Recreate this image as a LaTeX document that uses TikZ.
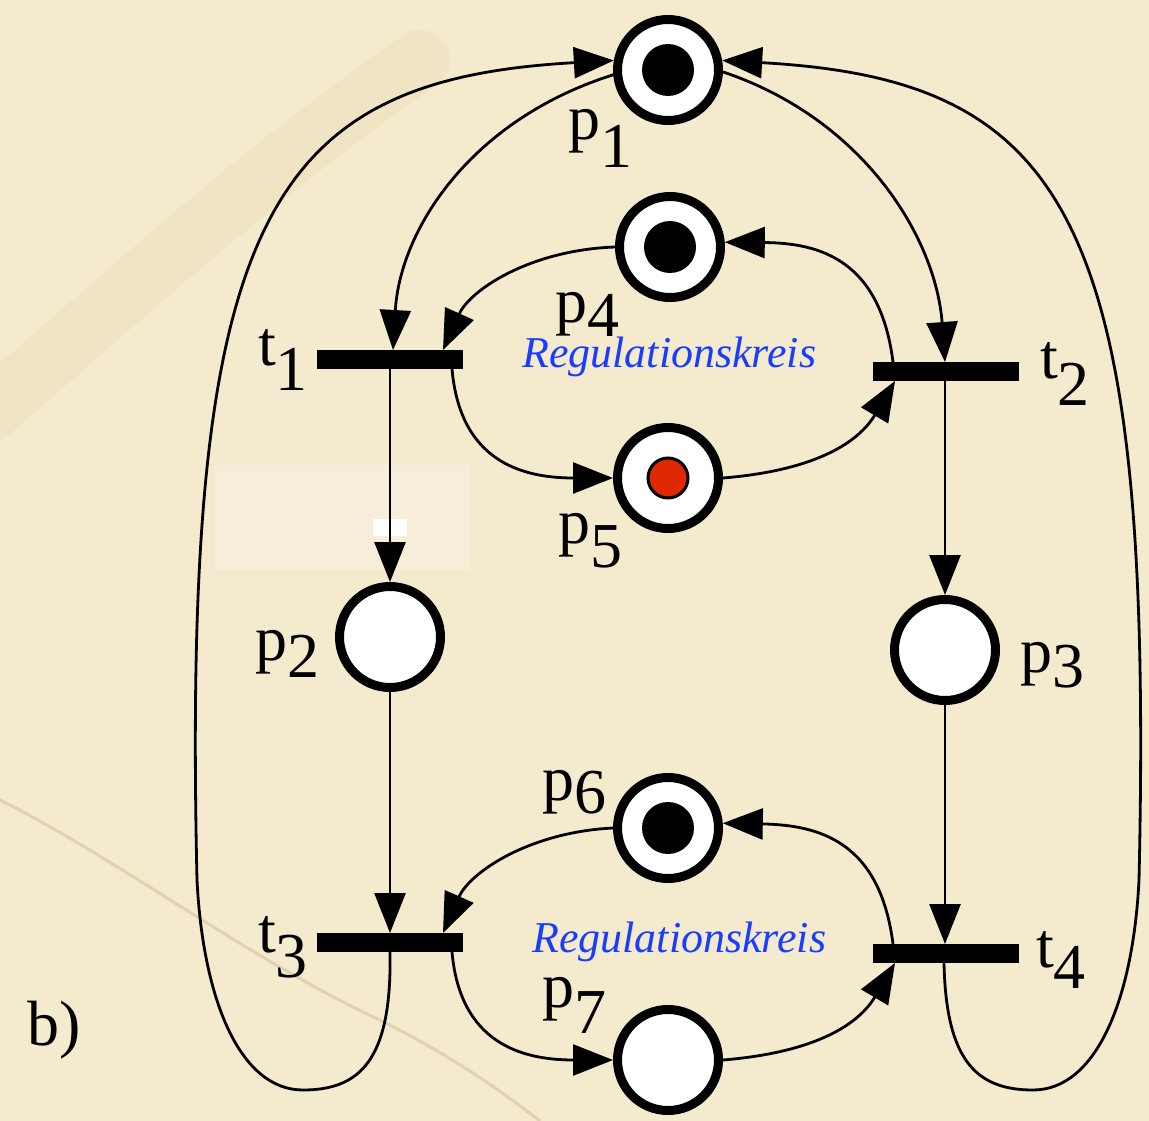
\documentclass[tikz,border=0pt]{standalone}
\usepackage{fontspec}
\setmainfont{Liberation Serif}
\usetikzlibrary{arrows.meta}
\definecolor{paper}{RGB}{244,234,206}
\definecolor{stain}{RGB}{222,196,140}
\definecolor{crack}{RGB}{190,150,105}
\definecolor{regblue}{RGB}{25,60,255}
\definecolor{tokred}{RGB}{222,40,0}
\begin{document}
\begin{tikzpicture}[x=1pt,y=-1pt,
  place/.style={circle, draw=black, line width=9pt, fill=white, minimum size=101pt, inner sep=0pt},
  token/.style={circle, fill=black, minimum size=52pt, inner sep=0pt, outer sep=0pt},
  redtoken/.style={circle, fill=tokred, draw=black, line width=3pt, minimum size=40pt, inner sep=0pt},
  trans/.style={rectangle, fill=black, minimum width=146pt, minimum height=19pt, inner sep=0pt, outer sep=0pt},
  arc/.style={line width=2.8pt, -{Triangle[length=40pt,width=31pt]}},
  lab/.style={anchor=base west, inner sep=0pt, font=\fontsize{64}{64}\selectfont},
  reg/.style={anchor=base west, inner sep=0pt, text=regblue, font=\fontsize{44}{44}\selectfont\itshape}]

% background
\fill[paper] (0,0) rectangle (1149,1121);
\useasboundingbox (0,0) rectangle (1149,1121);
\draw[stain, line width=60pt, opacity=0.14, line cap=round] (-20,420) .. controls (120,300) and (260,170) .. (420,60);
\draw[crack, line width=3pt, opacity=0.3] (0,800) .. controls (120,860) and (250,960) .. (380,1020) .. controls (450,1055) and (500,1090) .. (540,1121);
\fill[white, opacity=0.22] (215,465) rectangle (470,570);
\fill[white] (373,519) rectangle (407,536);

% places
\node[place] (p1) at (668,70) {};
\node[place] (p4) at (670,247) {};
\node[place] (p5) at (668,478) {};
\node[place] (p2) at (390,637) {};
\node[place] (p3) at (945,650) {};
\node[place] (p6) at (668,828) {};
\node[place] (p7) at (668,1060) {};

% tokens
\node[token] (k1) at (p1) {};
\node[token] (k4) at (p4) {};
\node[redtoken] (k5) at (p5) {};
\node[token] (k6) at (p6) {};

% transitions
\node[trans] (t1) at (390,359.5) {};
\node[trans] (t2) at (946,371.5) {};
\node[trans] (t3) at (390,942.5) {};
\node[trans] (t4) at (946,953.5) {};

% labels
\node[lab] (lp1) at (568,140) {p\raisebox{-28pt}{1}};
\node[lab] (lp4) at (555,322) {p\raisebox{-14pt}{4}};
\node[lab] (lp5) at (558,543) {p\raisebox{-24pt}{5}};
\node[lab] (lp2) at (255,660) {p\raisebox{-17pt}{2}};
\node[lab] (lp3) at (1020,672) {p\raisebox{-15pt}{3}};
\node[lab] (lp6) at (542,800) {p\raisebox{-13pt}{6}};
\node[lab] (lp7) at (542,1007) {p\raisebox{-26pt}{7}};
\node[lab] (lt1) at (258,365) {t\raisebox{-25pt}{1}};
\node[lab] (lt2) at (1040,378) {t\raisebox{-27pt}{2}};
\node[lab] (lt3) at (258,952) {t\raisebox{-25pt}{3}};
\node[lab] (lt4) at (1036,967) {t\raisebox{-21pt}{4}};
\node[lab] (lb) at (27,1045) {b)};
\node[reg] (r1) at (522,367) {Regulationskreis};
\node[reg] (r2) at (532,952) {Regulationskreis};

% upper loop arcs
\draw[arc] (p1.185) .. controls (470,120) and (400,230) .. ([xshift=3pt]t1.north);
\draw[arc] (p1.358) .. controls (866,120) and (936,240) .. ([xshift=-1pt]t2.north);
\draw[arc] (p4.west) .. controls (530,250) and (470,290) .. ([xshift=53pt]t1.north);
\draw[arc] ([xshift=-53pt]t2.north) .. controls (880,260) and (820,243) .. (p4.5);
\draw[arc] ([xshift=62pt]t1.south) .. controls (460,460) and (520,478) .. (p5.west);
\draw[arc] (p5.east) .. controls (820,470) and (860,440) .. ([xshift=-51pt]t2.south);

% vertical arcs
\draw[arc] (t1.south) -- (p2.north);
\draw[arc] ([xshift=-1pt]t2.south) -- (p3.north);
\draw[arc] (p2.south) -- (t3.north);
\draw[arc] (p3.south) -- ([xshift=-1pt]t4.north);

% lower loop arcs
\draw[arc] (p6.west) .. controls (530,832) and (470,872) .. ([xshift=53pt]t3.north);
\draw[arc] ([xshift=-53pt]t4.north) .. controls (880,842) and (820,825) .. (p6.5);
\draw[arc] ([xshift=62pt]t3.south) .. controls (460,1042) and (520,1060) .. (p7.west);
\draw[arc] (p7.east) .. controls (820,1052) and (860,1022) .. ([xshift=-51pt]t4.south);

% outer return arcs
\draw[arc] (t3.south) .. controls (392,1060) and (360,1090) .. (303,1090)
  .. controls (240,1090) and (203,1000) .. (197,880)
  .. controls (182,220) and (265,80) .. (p1.170);
\draw[arc] ([xshift=-2pt]t4.south) .. controls (946,1060) and (976,1090) .. (1033,1090)
  .. controls (1096,1090) and (1133,1000) .. (1139,880)
  .. controls (1154,220) and (1071,80) .. (p1.10);
\end{tikzpicture}
\end{document}
